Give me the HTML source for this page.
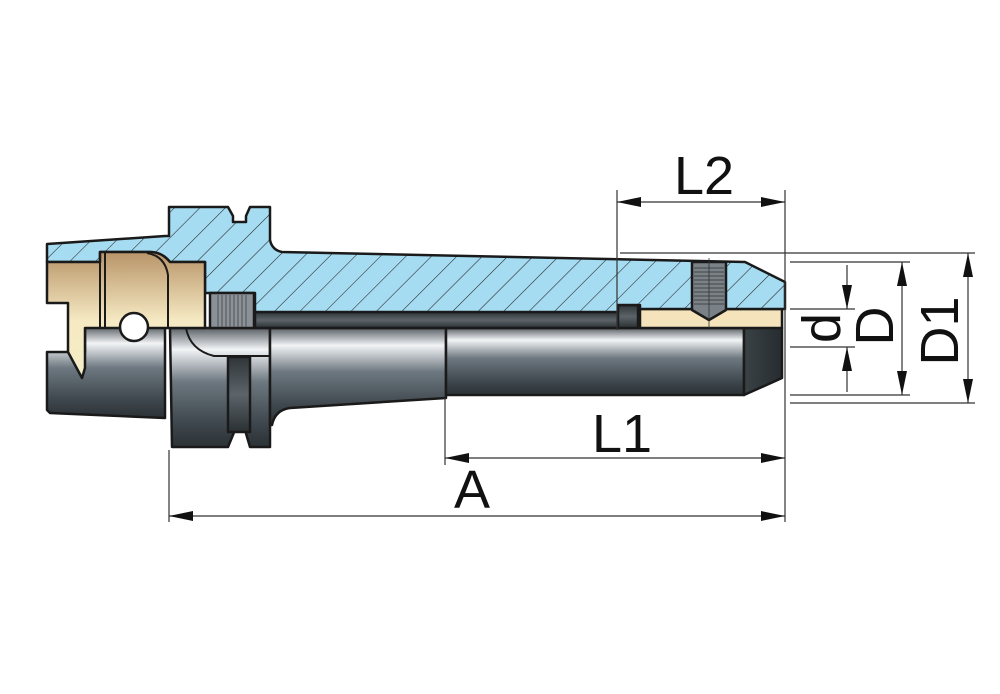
<!DOCTYPE html>
<html><head><meta charset="utf-8"><style>html,body{margin:0;padding:0;background:#fff}svg{display:block}</style></head>
<body>
<svg width="1000" height="694" viewBox="0 0 1000 694" xmlns="http://www.w3.org/2000/svg" font-family="Liberation Sans, Arial, sans-serif">
<defs>
<pattern id="hatch" patternUnits="userSpaceOnUse" width="18" height="18" patternTransform="rotate(45)">
<rect width="18" height="18" fill="#a6dcf2"/>
<line x1="0" y1="0" x2="0" y2="18" stroke="#222" stroke-width="1.1"/>
</pattern>
<linearGradient id="tan" x1="0" y1="0" x2="0" y2="1">
<stop offset="0" stop-color="#b89468"/><stop offset="0.55" stop-color="#f6eac4"/><stop offset="1" stop-color="#f3ecc6"/>
</linearGradient>
<linearGradient id="metal" x1="0" y1="0" x2="0" y2="1">
<stop offset="0" stop-color="#5a6066"/><stop offset="0.18" stop-color="#f2f4f6"/><stop offset="0.45" stop-color="#6e7880"/><stop offset="0.8" stop-color="#3e474d"/><stop offset="1" stop-color="#2c3236"/>
</linearGradient>
<linearGradient id="dark" x1="0" y1="0" x2="0" y2="1">
<stop offset="0" stop-color="#2f3538"/><stop offset="0.5" stop-color="#5c646a"/><stop offset="1" stop-color="#2a3033"/>
</linearGradient>
<linearGradient id="tip" x1="0" y1="0" x2="1" y2="0">
<stop offset="0" stop-color="#3a4246"/><stop offset="1" stop-color="#262c2f"/>
</linearGradient>
</defs>
<g stroke="#1a1a1a" stroke-width="2.5" stroke-linejoin="round">
<path d="M47,352 L85,352 L85,327 L165,327 L165,418 L50,413 L47,410 Z" fill="url(#metal)"/>
<path d="M170,328 L270,328 L270,447 L250,447 L245,430 L235,430 L228,447 L172,447 Z" fill="url(#metal)"/>
<rect x="228" y="357" width="22" height="75" fill="url(#dark)"/>
<path d="M186,328 Q190,350 214,356 L270,356" fill="none" stroke-width="2"/>
<path d="M270,328 L446,328 L446,398 L290,408 Q275,410 272,425 L270,425 Z" fill="url(#metal)"/>
<rect x="446" y="328" width="298" height="67" fill="url(#metal)"/>
<path d="M744,328 L782,328 L782,378 L744,395 Z" fill="url(#tip)"/>
<rect x="255" y="312" width="363" height="16" fill="url(#dark)"/>
<rect x="618" y="305" width="20" height="23" fill="url(#dark)"/>
<rect x="640" y="309" width="142" height="19" fill="#f4e3bb"/>
<path d="M47,244 L165,236 L169,236 L169,207 L228,207 L233,216 L233,222 L246,222 L246,216 L250,207 L270,207 L270,240 Q272,250 282,252 L745,262 L785,282 L785,309 L640,309 L640,305 L618,305 L618,312 L255,312 L255,293 L205,293 L205,262 L170,262 Q162,252 150,252 L100,252 L100,262 L47,262 Z" fill="url(#hatch)"/>
<path d="M47,262 L100,262 L100,252 L150,252 Q162,252 170,262 L205,262 L205,328 L85,328 L85,368 L82,378 L68,352 L68,303 L47,303 Z" fill="url(#tan)"/>
<path d="M100,262 L100,328 M105,253 L105,328 M147,253 Q165,256 168,275 L168,328" fill="none" stroke-width="2"/>
<circle cx="134" cy="327" r="14" fill="#fff"/>
<rect x="210" y="293" width="44" height="35" fill="#8a9298"/>
<g stroke-width="0.8" stroke="#444"><path d="M218,295v32M222,295v32M226,295v32M230,295v32M234,295v32M238,295v32M242,295v32M246,295v32"/></g>
<path d="M692,262 L726,262 L726,310 L709,320 L692,310 Z" fill="#7a8288"/>
<g stroke-width="0.8" stroke="#333"><path d="M694,268h30M694,272h30M694,276h30M694,280h30M694,284h30M694,288h30M694,292h30M694,296h30M694,300h30M694,304h30"/></g>
</g>
<line x1="709" y1="258" x2="709" y2="328" stroke="#333" stroke-width="0.8"/>
<g stroke="#333" stroke-width="1.2" fill="none">
<path d="M617,190V330M785,190V522M445,398V465M169,450V522"/>
<path d="M620,253H975M790,262H910M790,309H855M790,347H855M790,395H910M790,403H975"/>
<path d="M617,202H785M445,458H785M169,516H785"/>
<path d="M968,253V403M902,262V395M847,265V309M847,347V392"/>
</g>
<g fill="#111">
<path d="M617,202l24,-5v10zM785,202l-24,-5v10z"/>
<path d="M445,458l24,-5v10zM785,458l-24,-5v10z"/>
<path d="M169,516l24,-5v10zM785,516l-24,-5v10z"/>
<path d="M968,253l-5,24h10zM968,403l-5,-24h10z"/>
<path d="M902,262l-5,24h10zM902,395l-5,-24h10z"/>
<path d="M847,309l-5,-24h10zM847,347l-5,24h10z"/>
</g>
<g font-size="54" fill="#111" text-anchor="middle">
<text x="704" y="194">L2</text>
<text x="622" y="452">L1</text>
<text x="472" y="508">A</text>
<text transform="translate(840,328) rotate(-90)">d</text>
<text transform="translate(893,326) rotate(-90)">D</text>
<text transform="translate(958,331) rotate(-90)">D1</text>
</g>
</svg>
</body></html>
